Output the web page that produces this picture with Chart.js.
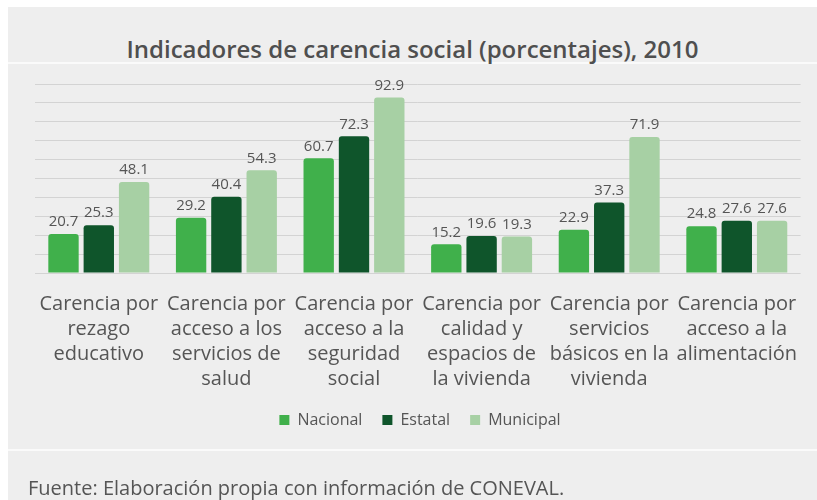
<!DOCTYPE html>
<html>
<head>
<meta charset="utf-8">
<script src="https://cdn.jsdelivr.net/npm/chart.js@4"></script>
<style>
  html, body { margin: 0; padding: 0; background: #fff; }
  #wrap { position: relative; width: 817px; height: 500px; overflow: hidden; }
  .panel { position: absolute; left: 8px; top: 7px; width: 809px; height: 493px; background: #eeeeee; }
  .sep { position: absolute; left: 8px; width: 809px; height: 2px; background: #fafafa; }
  #title { position: absolute; left: 8px; width: 809px; top: 32px; line-height: 30px; text-align: center;
           font: 600 24px "Open Sans", sans-serif; color: #4f4f4f; }
  #source { position: absolute; left: 28px; top: 474px; line-height: 26px;
            font: 20px "Open Sans", sans-serif; color: #555; }
  canvas { position: absolute; left: 0; top: 0; }
</style>
</head>
<body>
<div id="wrap">
  <div class="panel"></div>
  <div class="sep" style="top:62px"></div>
  <div class="sep" style="top:449px"></div>
  <div id="title">Indicadores de carencia social (porcentajes), 2010</div>
  <canvas id="chart" width="817" height="500"></canvas>
  <div id="source">Fuente: Elaboración propia con información de CONEVAL.</div>
</div>
<script>
const categories = [
  ["Carencia por", "rezago", "educativo"],
  ["Carencia por", "acceso a los", "servicios de", "salud"],
  ["Carencia por", "acceso a la", "seguridad", "social"],
  ["Carencia por", "calidad y", "espacios de", "la vivienda"],
  ["Carencia por", "servicios", "básicos en la", "vivienda"],
  ["Carencia por", "acceso a la", "alimentación"]
];
const nacional = [20.7, 29.2, 60.7, 15.2, 22.9, 24.8];
const estatal = [25.3, 40.4, 72.3, 19.6, 37.3, 27.6];
const municipal = [48.1, 54.3, 92.9, 19.3, 71.9, 27.6];

// numbers above each bar
const valueLabels = {
  id: "valueLabels",
  afterDatasetsDraw(chart) {
    const ctx = chart.ctx;
    ctx.save();
    ctx.font = '15px "Open Sans"';
    ctx.fillStyle = "#555";
    ctx.textAlign = "center";
    ctx.textBaseline = "middle";
    chart.data.datasets.forEach((ds, i) => {
      chart.getDatasetMeta(i).data.forEach((bar, j) => {
        ctx.fillText(ds.data[j].toFixed(1), bar.x, bar.y - 12);
      });
    });
    ctx.restore();
  }
};

const barStyle = { borderRadius: 3, borderSkipped: "start", categoryPercentage: 0.83, barPercentage: 0.86 };

new Chart(document.getElementById("chart"), {
  type: "bar",
  data: {
    labels: categories,
    datasets: [
      { label: "Nacional", data: nacional, backgroundColor: "#40b04b", ...barStyle },
      { label: "Estatal", data: estatal, backgroundColor: "#0f552b", ...barStyle },
      { label: "Municipal", data: municipal, backgroundColor: "#a7d0a4", ...barStyle }
    ]
  },
  options: {
    responsive: false,
    animation: false,
    layout: { padding: { left: 35, right: 12, top: 84, bottom: 62 } },
    plugins: {
      tooltip: { enabled: false },
      legend: {
        position: "bottom",
        labels: {
          boxWidth: 10, boxHeight: 10, padding: 20,
          color: "#555",
          font: { family: "Open Sans", size: 16 }
        }
      }
    },
    scales: {
      x: {
        grid: { display: false, drawTicks: false },
        border: { display: false },
        ticks: {
          color: "#555", padding: 19, maxRotation: 0, autoSkip: false,
          font: { family: "Open Sans", size: 20, lineHeight: 1.25 }
        },
        afterFit: s => { s.height = 119; }
      },
      y: {
        min: 0, max: 100,
        grid: { color: "#d3d3d3", drawTicks: false },
        border: { display: false },
        ticks: { display: false, stepSize: 10 }
      }
    }
  },
  plugins: [valueLabels]
});
</script>
</body>
</html>
